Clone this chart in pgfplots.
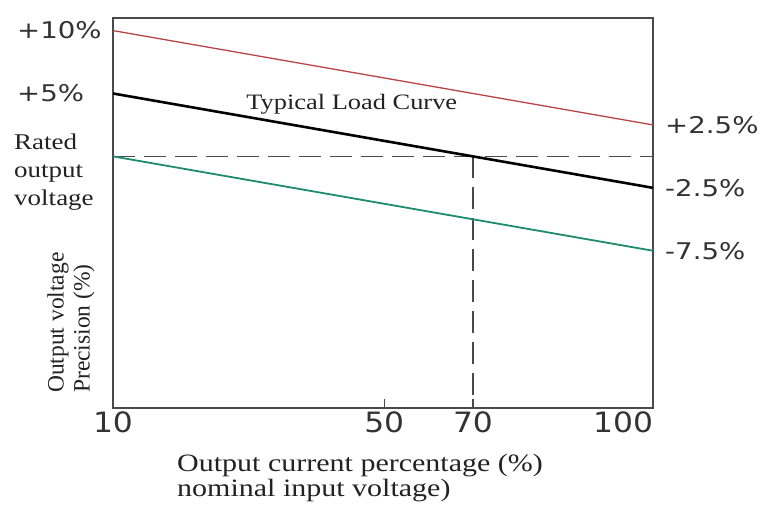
\documentclass[border=0pt]{standalone}
\usepackage{fontspec}
\setmainfont{Liberation Serif}
\newfontfamily\dejavu{DejaVu Sans}
\usepackage{pgfplots}
\pgfplotsset{compat=1.18}
\definecolor{redline}{HTML}{B8444A}
\definecolor{greenline}{HTML}{1E8C6C}
\definecolor{framec}{HTML}{4A4A4A}
\definecolor{lbl}{HTML}{333333}
\definecolor{serifc}{HTML}{222222}
\begin{document}
\begin{tikzpicture}
\begin{axis}[
  scale only axis, width=540pt, height=390pt,
  xmin=10, xmax=100, ymin=-20, ymax=11,
  axis line style={framec, line width=1.6pt},
  xtick={10,55.2,70,100},
  xticklabels={10,50,70,\hbox to 0pt{\hss 100}},
  xtick pos=bottom, ytick=\empty,
  tick align=inside, major tick length=9pt,
  tick style={framec, line width=1.4pt},
  xticklabel style={font=\dejavu\fontsize{28}{30}\selectfont, text=lbl, xscale=1.12},
  /pgf/number format/assume math mode=true,
  clip=false,
]
\addplot[framec, line width=1.6pt, dash pattern=on 22pt off 9pt] coordinates {(10,0) (100,0)};
\addplot[framec, line width=1.6pt, dash pattern=on 22pt off 9pt] coordinates {(70,0) (70,-20)};
\addplot[redline, line width=1.3pt] coordinates {(10,10) (100,2.5)};
\addplot[black, line width=2.6pt] coordinates {(10,5) (100,-2.5)};
\addplot[greenline, line width=1.8pt] coordinates {(10,0) (100,-7.5)};

\node[anchor=west, inner sep=0, text=lbl, font=\dejavu\fontsize{23}{25}\selectfont, xscale=1.2] at ([xshift=-96pt]axis cs:10,10) {+10\%};
\node[anchor=west, inner sep=0, text=lbl, font=\dejavu\fontsize{23}{25}\selectfont, xscale=1.2] at ([xshift=-96pt]axis cs:10,5) {+5\%};
\node[anchor=west, inner sep=0, align=left, text=serifc, font=\fontsize{22.5}{28}\selectfont, xscale=1.2] at ([xshift=-99pt]axis cs:10,-1.24) {Rated\\output\\voltage};
\node[rotate=90, anchor=north west, inner sep=0, align=left, text=serifc, font=\fontsize{23.5}{26}\selectfont] at ([xshift=-66pt,yshift=15pt]axis cs:10,-20) {Output voltage\\Precision (\%)};
\node[anchor=base, inner sep=0, text=serifc, font=\fontsize{22}{24}\selectfont, xscale=1.2] at (axis cs:49.8,3.69) {Typical Load Curve};
\node[anchor=west, inner sep=0, text=lbl, font=\dejavu\fontsize{23}{25}\selectfont, xscale=1.2] at ([xshift=12pt]axis cs:100,2.5) {+2.5\%};
\node[anchor=west, inner sep=0, text=lbl, font=\dejavu\fontsize{23}{25}\selectfont, xscale=1.2] at ([xshift=12pt]axis cs:100,-2.5) {-2.5\%};
\node[anchor=west, inner sep=0, text=lbl, font=\dejavu\fontsize{23}{25}\selectfont, xscale=1.2] at ([xshift=12pt]axis cs:100,-7.5) {-7.5\%};
\node[anchor=base west, inner sep=0, text=serifc, font=\fontsize{25}{27}\selectfont, xscale=1.2] at ([xshift=64pt,yshift=-63pt]axis cs:10,-20) {Output current percentage (\%)};
\node[anchor=base west, inner sep=0, text=serifc, font=\fontsize{25}{27}\selectfont, xscale=1.2] at ([xshift=64pt,yshift=-88pt]axis cs:10,-20) {nominal input voltage)};
\end{axis}
\pgfresetboundingbox
\path[use as bounding box] ([xshift=-113pt,yshift=-98pt]current axis.south west) rectangle ([xshift=112pt,yshift=18pt]current axis.north east);
\end{tikzpicture}
\end{document}
